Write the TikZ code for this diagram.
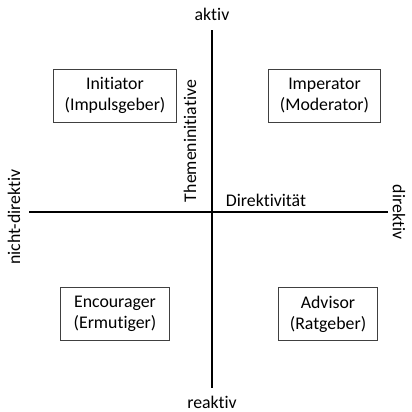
\documentclass[tikz,border=0pt]{standalone}
\usepackage{fontspec}
\setmainfont{Carlito}[Ligatures=NoCommon]
\begin{document}
\begin{tikzpicture}[x=1bp,y=-1bp,
  every node/.style={font=\fontsize{17.8bp}{21bp}\selectfont, inner sep=0pt},
  role/.style={draw=black!75, line width=1bp, align=center, minimum height=53bp},
  axis/.style={line width=1.6bp, black}]
\useasboundingbox (0,0) rectangle (412,412);
\coordinate (top) at (212,30);
\coordinate (bot) at (212,388);
\coordinate (left) at (29,212);
\coordinate (right) at (388,212);
\draw[axis] (top) -- (bot);
\draw[axis] (left) -- (right);
\node (aktiv) at (212,14) {aktiv};
\node (reaktiv) at (212,402) {reaktiv};
\node[rotate=90] (nd) at (14,217) {nicht-direktiv};
\node[rotate=-90] (d) at (399,212) {direktiv};
\node[rotate=90] (them) at (190,141) {Themeninitiative};
\node (dir) at (266,200) {Direktivität};
\node[role, minimum width=122bp] (init) at (115,95.5) {Initiator\\(Impulsgeber)};
\node[role, minimum width=111bp] (imp) at (324.5,95.5) {Imperator\\(Moderator)};
\node[role, minimum width=108bp] (enc) at (115,314) {Encourager\\(Ermutiger)};
\node[role, minimum width=98bp] (adv) at (328,314) {Advisor\\(Ratgeber)};
\end{tikzpicture}
\end{document}
